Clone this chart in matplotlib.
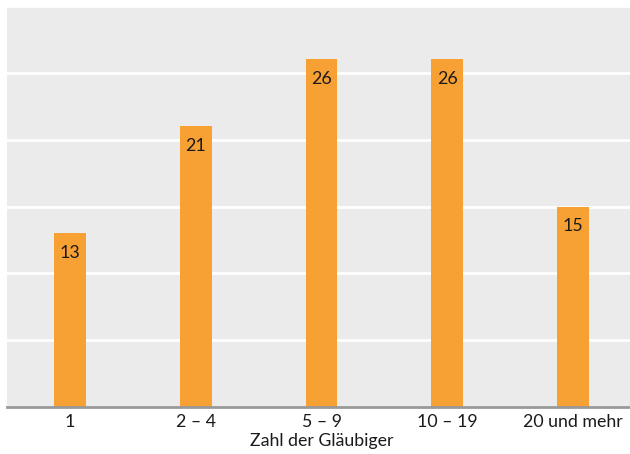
import matplotlib
matplotlib.use("Agg")
import matplotlib.pyplot as plt

categories = ["1", "2 – 4", "5 – 9", "10 – 19", "20 und mehr"]
values = [13, 21, 26, 26, 15]
yticks = [0, 5, 10, 15, 20, 25, 30]

plt.rcParams['font.family'] = ['Lato', 'DejaVu Sans']

fig = plt.figure(figsize=(6.3, 4.54), dpi=100)
ax = fig.add_axes([7/630, 47/454, 629/630, 401/454])
ax.set_facecolor("#ebebeb")
x = list(range(len(categories)))
bars = ax.bar(x, values, width=0.254, color="#f7a033", zorder=3)
ax.set_xlim(-0.5, 4.5)
ax.set_ylim(0, 30)
ax.set_yticks(yticks)
ax.yaxis.grid(True, color="white", linewidth=2, zorder=1)
ax.tick_params(axis="y", left=False, labelleft=False)
ax.tick_params(axis="x", length=0, labelsize=12.8, pad=5, colors="#1a1a1a")
ax.set_xticks(x)
ax.set_xticklabels(categories)
for s in ["top", "right", "left"]:
    ax.spines[s].set_visible(False)
ax.spines["bottom"].set_color("#999999")
ax.spines["bottom"].set_linewidth(2)
ax.spines["bottom"].set_zorder(4)
for xi, v in zip(x, values):
    ax.text(xi, v - 0.85, str(v), ha="center", va="top", fontsize=12.8, color="#1a1a1a", zorder=5)
fig.text(322/630, 1 - 441/454, "Zahl der Gläubiger", ha="center", va="center", fontsize=12.8, color="#1a1a1a")
fig.savefig("out.png", dpi=100)
